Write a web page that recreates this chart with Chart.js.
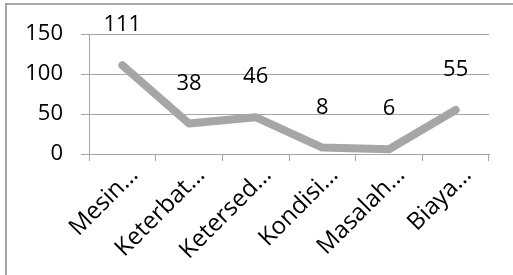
<!DOCTYPE html>
<html>
<head>
<meta charset="utf-8">
<script src="https://cdn.jsdelivr.net/npm/chart.js@4"></script>
<style>
html,body{margin:0;padding:0;background:#fff;}
#wrap{position:relative;width:513px;height:275px;}
</style>
</head>
<body>
<div id="wrap"><canvas id="c" width="513" height="275"></canvas></div>
<script>
const categories = ["Mesin…", "Keterbat…", "Ketersed…", "Kondisi…", "Masalah…", "Biaya…"];
const values = [111, 38, 46, 8, 6, 55];
const yTicks = [0, 50, 100, 150];

const FONT = "'Open Sans', 'Noto Sans', sans-serif";

const framePlugin = {
  id: 'frame',
  beforeDraw(chart) {
    const ctx = chart.ctx;
    ctx.save();
    ctx.strokeStyle = '#a6a6a6';
    ctx.lineWidth = 2;
    ctx.beginPath();
    ctx.moveTo(6, 275);
    ctx.lineTo(6, 4);
    ctx.lineTo(513, 4);
    ctx.stroke();
    ctx.restore();
  }
};

const labelPlugin = {
  id: 'valueLabels',
  afterDatasetsDraw(chart) {
    const ctx = chart.ctx;
    const meta = chart.getDatasetMeta(0);
    ctx.save();
    ctx.font = "22px " + FONT;
    ctx.fillStyle = '#000';
    ctx.textAlign = 'center';
    ctx.textBaseline = 'middle';
    meta.data.forEach((pt, i) => {
      ctx.fillText(String(values[i]), pt.x, pt.y - 40);
    });
    ctx.restore();
  }
};

new Chart(document.getElementById('c'), {
  type: 'line',
  data: {
    labels: categories,
    datasets: [{
      data: values,
      borderColor: '#a6a6a6',
      borderWidth: 8,
      borderCapStyle: 'round',
      borderJoinStyle: 'round',
      pointRadius: 0,
      pointHoverRadius: 0,
      tension: 0,
      fill: false
    }]
  },
  options: {
    responsive: false,
    animation: false,
    events: [],
    layout: { padding: { left: 0, top: 34, right: 24, bottom: 0 } },
    plugins: { legend: { display: false }, tooltip: { enabled: false }, title: { display: false } },
    scales: {
      x: {
        offset: true,
        grid: { offset: true, drawOnChartArea: false, color: '#a6a6a6', tickLength: 7, lineWidth: 1 },
        border: { color: '#a6a6a6', width: 1 },
        ticks: {
          color: '#000',
          font: { family: FONT, size: 24 },
          maxRotation: 45, minRotation: 45,
          autoSkip: false,
          labelOffset: 12,
          padding: 0
        },
        afterFit(scale) { scale.height = 121; }
      },
      y: {
        min: 0, max: 150,
        afterBuildTicks(scale) { scale.ticks = yTicks.map(v => ({ value: v })); },
        grid: { color: '#a6a6a6', tickLength: 8, lineWidth: 1 },
        border: { color: '#a6a6a6', width: 1 },
        ticks: {
          color: '#000',
          font: { family: FONT, size: 22 },
          padding: 18
        },
        afterFit(scale) { scale.width = 89; }
      }
    }
  },
  plugins: [framePlugin, labelPlugin]
});
</script>
</body>
</html>
